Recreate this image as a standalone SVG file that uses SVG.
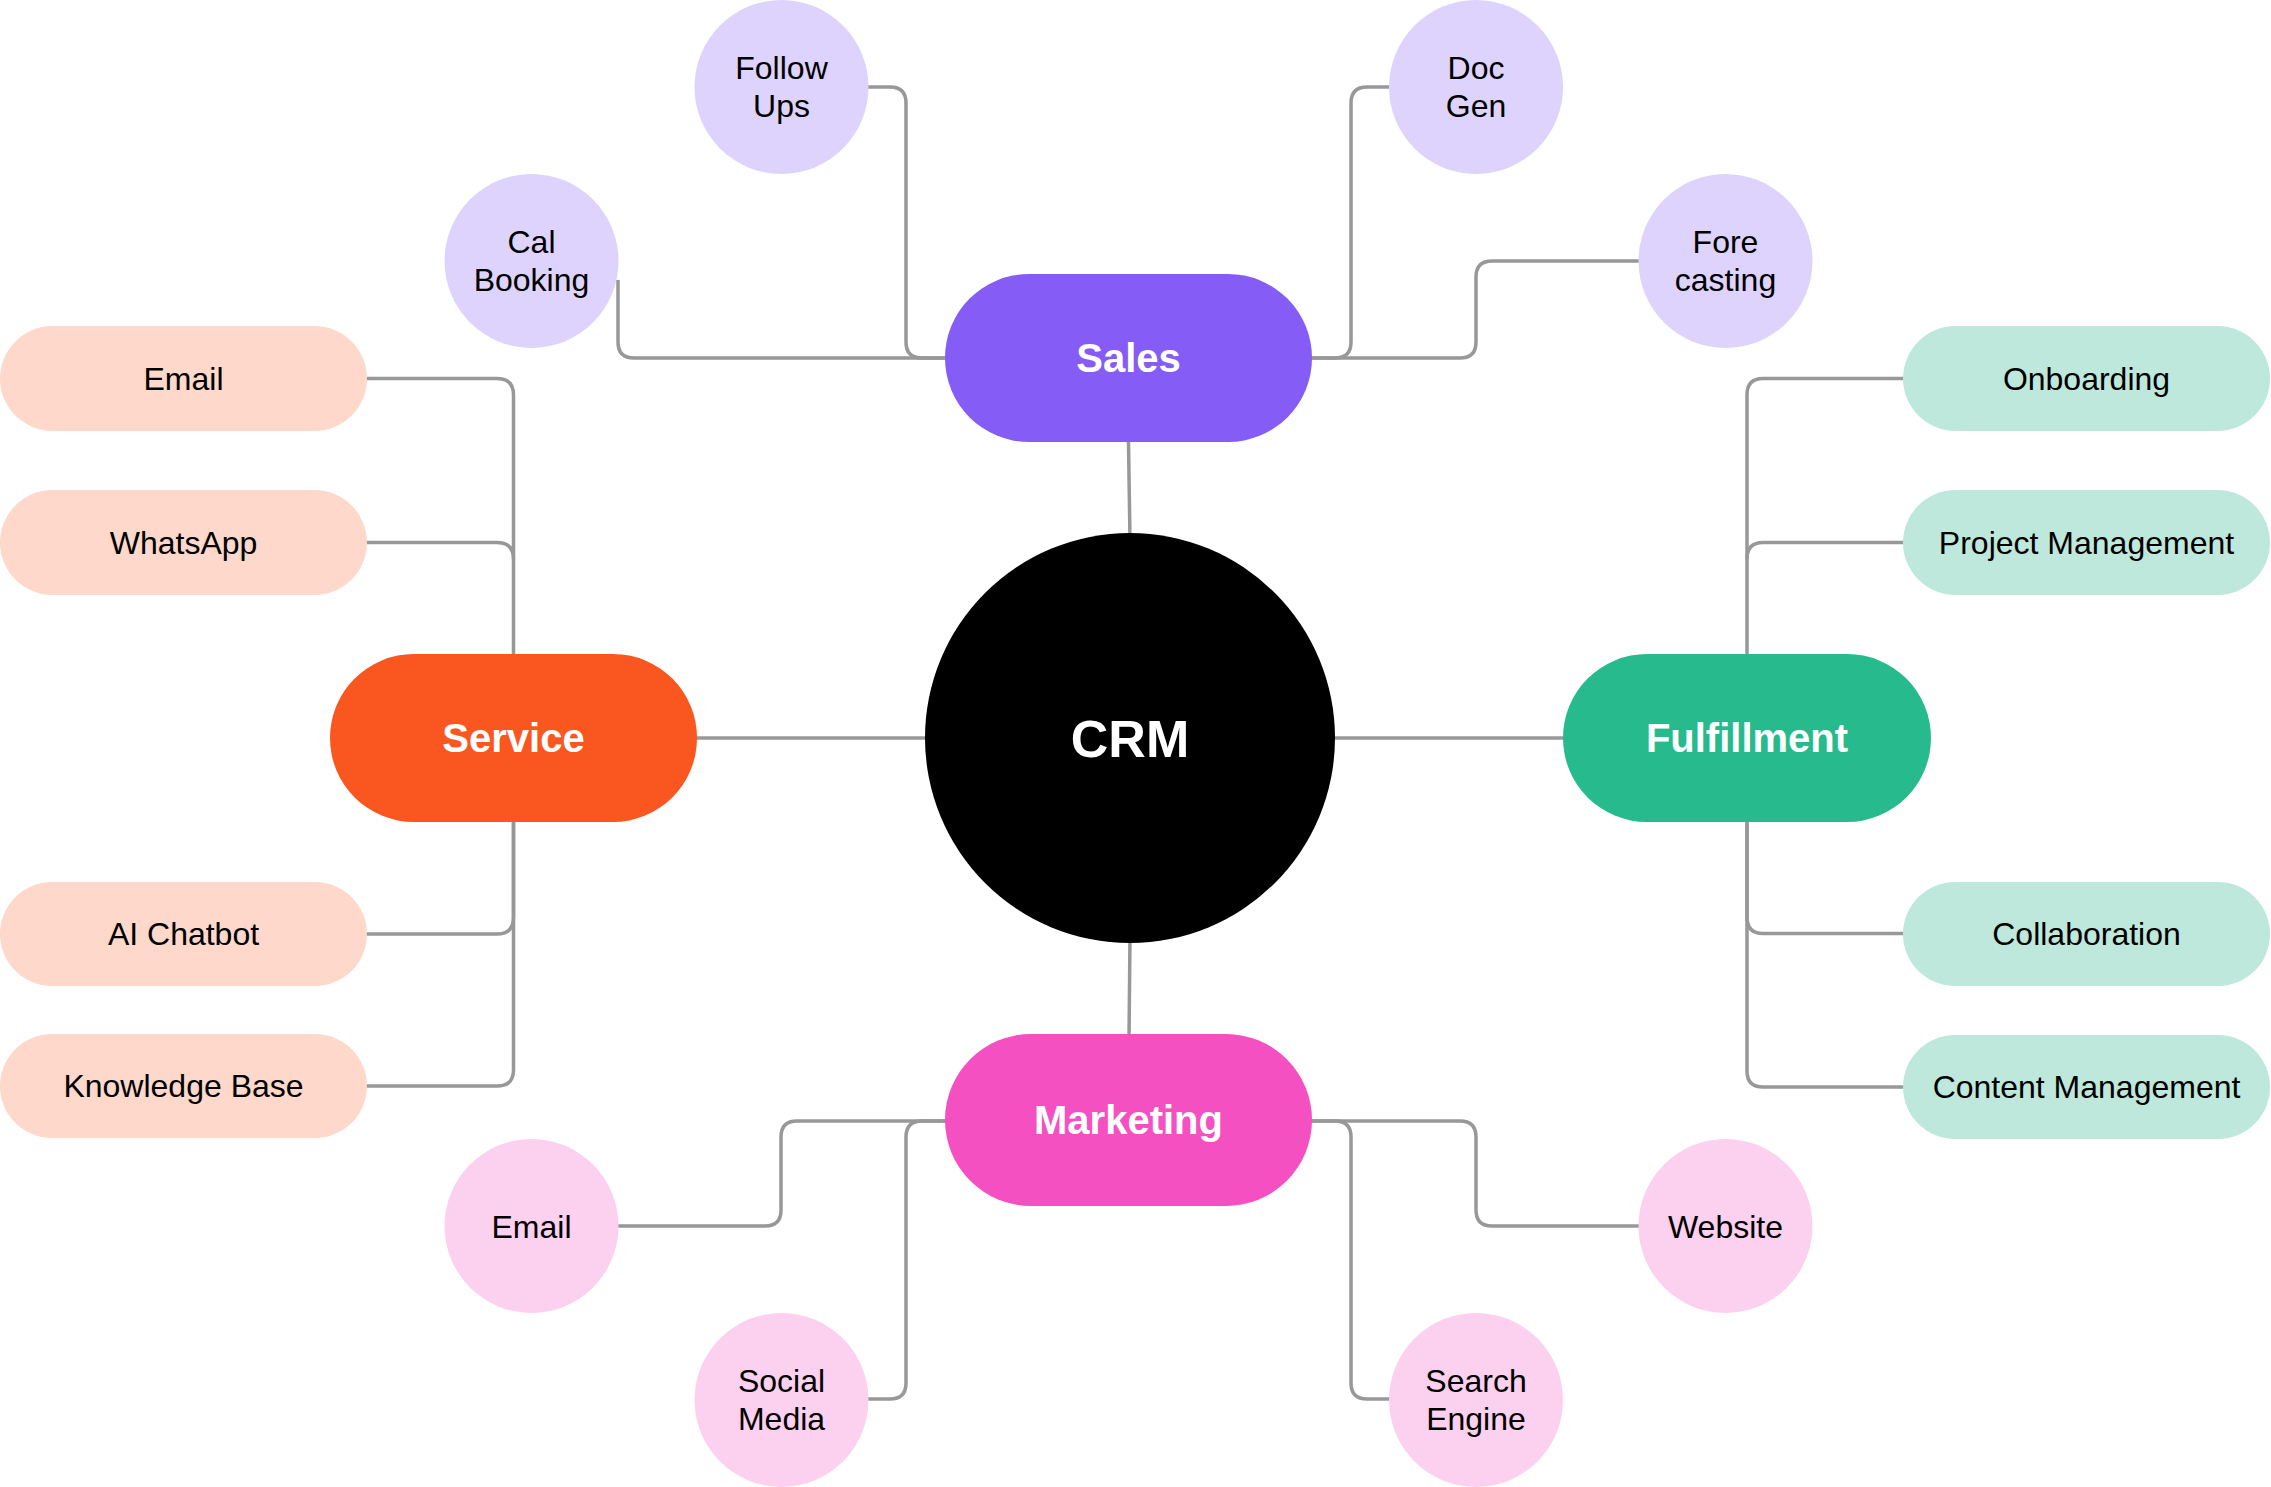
<svg xmlns="http://www.w3.org/2000/svg" width="2271" height="1487" viewBox="0 0 2271 1487">
<style>
.c{fill:none;stroke:#989898;stroke-width:3.5;stroke-linecap:butt;stroke-linejoin:round}
.t{font-family:"Liberation Sans",Arial,sans-serif;font-size:32px;fill:#000;text-anchor:middle}
.b{font-family:"Liberation Sans",Arial,sans-serif;font-size:40px;font-weight:700;fill:#fff;text-anchor:middle}
.sales{fill:#855DF6}.service{fill:#FA561F}.ful{fill:#26BA8D}.mkt{fill:#F450C2}
.lp{fill:#DDD3FD}.pe{fill:#FDD8CB}.mi{fill:#BDE8DB}.pk{fill:#FCD0EF}
</style>
<rect width="2271" height="1487" fill="#fff"/>
<g id="connectors">
<path class="c" d="M1128.5 442 L1130 540"/>
<path class="c" d="M1130 936 L1129 1040"/>
<path class="c" d="M690 738 H930"/>
<path class="c" d="M1330 738 H1570"/>
<path class="c" d="M618 280 V342 Q618 358 634 358 H1000"/>
<path class="c" d="M868 87 H890 Q906 87 906 103 V342 Q906 358 922 358 H1000"/>
<path class="c" d="M1389 87 H1367 Q1351 87 1351 103 V342 Q1351 358 1335 358 H1250"/>
<path class="c" d="M1639 261 H1492 Q1476 261 1476 277 V342 Q1476 358 1460 358 H1250"/>
<path class="c" d="M360 378.5 H497 Q513.5 378.5 513.5 395 V700"/>
<path class="c" d="M360 542.5 H497 Q513.5 542.5 513.5 559"/>
<path class="c" d="M360 934 H497 Q513.5 934 513.5 917 V780"/>
<path class="c" d="M360 1086 H497 Q513.5 1086 513.5 1070 V780"/>
<path class="c" d="M1910 378.5 H1763 Q1747 378.5 1747 395 V700"/>
<path class="c" d="M1910 542.5 H1763 Q1747 542.5 1747 559"/>
<path class="c" d="M1910 933.5 H1763 Q1747 933.5 1747 917 V780"/>
<path class="c" d="M1910 1087 H1763 Q1747 1087 1747 1071 V780"/>
<path class="c" d="M610 1226 H765 Q781 1226 781 1210 V1137 Q781 1121 797 1121 H1000"/>
<path class="c" d="M860 1399 H890 Q906 1399 906 1383 V1137 Q906 1121 922 1121 H1000"/>
<path class="c" d="M1645 1226 H1492 Q1476 1226 1476 1210 V1137 Q1476 1121 1460 1121 H1250"/>
<path class="c" d="M1395 1399 H1367 Q1351 1399 1351 1383 V1137 Q1351 1121 1335 1121 H1250"/>
</g>
<g id="crm"><circle cx="1130" cy="738" r="205" fill="#000"/><text x="1130" y="757" font-family="Liberation Sans,Arial,sans-serif" font-size="52" font-weight="700" fill="#fff" text-anchor="middle">CRM</text></g>
<g id="sales"><rect class="sales" x="945" y="274" width="367" height="168" rx="84"/><text class="b" x="1128.5" y="372">Sales</text></g>
<g id="service"><rect class="service" x="330" y="654" width="367" height="168" rx="84"/><text class="b" x="513.5" y="752">Service</text></g>
<g id="fulfillment"><rect class="ful" x="1563" y="654" width="368" height="168" rx="84"/><text class="b" x="1747" y="752">Fulfillment</text></g>
<g id="marketing"><rect class="mkt" x="945" y="1034" width="367" height="172" rx="86"/><text class="b" x="1128.5" y="1134">Marketing</text></g>
<g id="follow-ups"><circle class="lp" cx="781.5" cy="87" r="87"/><text class="t" x="781.5" y="79">Follow</text><text class="t" x="781.5" y="117">Ups</text></g>
<g id="cal-booking"><circle class="lp" cx="531.5" cy="261" r="87"/><text class="t" x="531.5" y="253">Cal</text><text class="t" x="531.5" y="291">Booking</text></g>
<g id="doc-gen"><circle class="lp" cx="1476" cy="87" r="87"/><text class="t" x="1476" y="79">Doc</text><text class="t" x="1476" y="117">Gen</text></g>
<g id="forecasting"><circle class="lp" cx="1725.5" cy="261" r="87"/><text class="t" x="1725.5" y="253">Fore</text><text class="t" x="1725.5" y="291">casting</text></g>
<g id="service-email"><rect class="pe" x="0" y="326" width="367" height="105" rx="52.5"/><text class="t" x="183.5" y="389.5">Email</text></g>
<g id="whatsapp"><rect class="pe" x="0" y="490" width="367" height="105" rx="52.5"/><text class="t" x="183.5" y="553.5">WhatsApp</text></g>
<g id="ai-chatbot"><rect class="pe" x="0" y="882" width="367" height="104" rx="52"/><text class="t" x="183.5" y="945">AI Chatbot</text></g>
<g id="knowledge-base"><rect class="pe" x="0" y="1034" width="367" height="104" rx="52"/><text class="t" x="183.5" y="1097">Knowledge Base</text></g>
<g id="onboarding"><rect class="mi" x="1903" y="326" width="367" height="105" rx="52.5"/><text class="t" x="2086.5" y="389.5">Onboarding</text></g>
<g id="project-management"><rect class="mi" x="1903" y="490" width="367" height="105" rx="52.5"/><text class="t" x="2086.5" y="553.5">Project Management</text></g>
<g id="collaboration"><rect class="mi" x="1903" y="882" width="367" height="104" rx="52"/><text class="t" x="2086.5" y="945">Collaboration</text></g>
<g id="content-management"><rect class="mi" x="1903" y="1035" width="367" height="104" rx="52"/><text class="t" x="2086.5" y="1098">Content Management</text></g>
<g id="marketing-email"><circle class="pk" cx="531.5" cy="1226" r="87"/><text class="t" x="531.5" y="1237.5">Email</text></g>
<g id="social-media"><circle class="pk" cx="781.5" cy="1400" r="87"/><text class="t" x="781.5" y="1392">Social</text><text class="t" x="781.5" y="1430">Media</text></g>
<g id="website"><circle class="pk" cx="1725.5" cy="1226" r="87"/><text class="t" x="1725.5" y="1237.5">Website</text></g>
<g id="search-engine"><circle class="pk" cx="1476" cy="1400" r="87"/><text class="t" x="1476" y="1392">Search</text><text class="t" x="1476" y="1430">Engine</text></g>
</svg>
